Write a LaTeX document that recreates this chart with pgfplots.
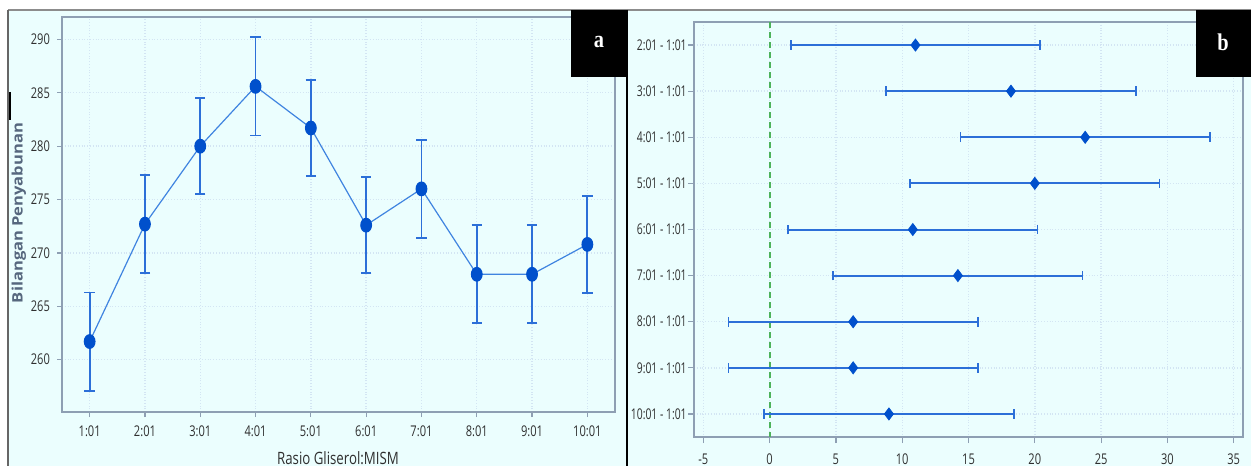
\documentclass[border=0pt]{standalone}
\usepackage{fontspec}
\setmainfont{Open Sans}[FakeStretch=0.75]
\newfontfamily\labfont{Open Sans}[FakeStretch=0.78]
\newfontfamily\narrowfont{Open Sans}[FakeStretch=0.70]
\newfontfamily\serifb{Liberation Serif}[FakeStretch=0.85]
\usepackage{graphicx}
\usepackage{pgfplots}
\pgfplotsset{compat=1.18}
\usepackage{pgfplotstable}
\definecolor{bgc}{HTML}{EBFEFE}
\definecolor{gridc}{HTML}{D3E5F3}
\definecolor{axc}{HTML}{8E9FB3}
\definecolor{mk}{HTML}{0050CC}
\definecolor{ln}{HTML}{3F84E0}
\definecolor{eb}{HTML}{2C6FD8}
\definecolor{grn}{HTML}{4DB35A}
\definecolor{ylab}{HTML}{56677E}
\definecolor{tkl}{HTML}{2F2F2F}

\pgfplotstableread{
x y e
1 261.7 4.6
2 272.7 4.6
3 280.0 4.5
4 285.6 4.6
5 281.7 4.5
6 272.6 4.5
7 276.0 4.6
8 268.0 4.6
9 268.0 4.6
10 270.8 4.55
}\lefttab

\pgfplotstableread{
y x e
1 11.0 9.4
2 18.2 9.4
3 23.8 9.4
4 20.0 9.4
5 10.8 9.4
6 14.2 9.4
7 6.3 9.4
8 6.3 9.4
9 9.0 9.4
}\righttab

\begin{document}
\begin{tikzpicture}
\path[use as bounding box] (0,0) rectangle (625.5pt,233pt);
\begin{scope}[x=0.5pt,y=-0.5pt,yshift=233pt]
  \fill[white] (0,0) rectangle (1251,466);
  \fill[bgc] (8,10) rectangle (1251,466);
  \node[rotate=90, ylab, font=\labfont\bfseries\fontsize{10.6}{12}\selectfont] at (19,213) {\scalebox{1}[0.68]{Bilangan Penyabunan}};
  \node[anchor=base, tkl, font=\labfont\fontsize{8.5}{10}\selectfont] at (338,464) {Rasio Gliserol:MISM};
\end{scope}

\begin{axis}[
  at={(31pt,27pt)}, anchor=south west,
  width=276.5pt, height=197.5pt, scale only axis,
  xmin=0.5, xmax=10.5, ymin=255.1, ymax=292.1,
  xtick={1,...,10},
  xticklabels={1:01,2:01,3:01,4:01,5:01,6:01,7:01,8:01,9:01,10:01},
  ytick={260,265,...,290},
  grid=major, grid style={gridc, densely dotted, line width=0.7pt},
  axis line style={axc, line width=0.8pt},
  tick style={axc, line width=0.6pt},
  tick align=outside, major tick length=2.5pt,
  xtick pos=bottom, ytick pos=left,
  tick label style={font=\fontsize{7.4}{8}\selectfont, tkl},
  /pgf/number format/assume math mode=true,
  xticklabel style={yshift=-1pt},
]
\addplot[ln, line width=0.6pt, mark=*, mark size=3.4pt,
  mark options={mk, draw=mk, fill=mk, xscale=0.78},
  error bars/.cd, y dir=both, y explicit,
  error bar style={eb, line width=0.9pt},
  error mark options={eb, mark size=2.6pt, line width=0.9pt, rotate=90}]
  table[x=x, y=y, y error=e]{\lefttab};
\end{axis}

\begin{axis}[
  at={(347pt,14.5pt)}, anchor=south west,
  width=274.5pt, height=207.5pt, scale only axis,
  xmin=-5.7, xmax=35.7, ymin=0.5, ymax=9.5, y dir=reverse,
  xtick={-5,0,...,35},
  ytick={1,...,9},
  yticklabels={2:01 - 1:01,3:01 - 1:01,4:01 - 1:01,5:01 - 1:01,6:01 - 1:01,7:01 - 1:01,8:01 - 1:01,9:01 - 1:01,10:01 - 1:01},
  grid=major, grid style={gridc, densely dotted, line width=0.7pt},
  axis line style={axc, line width=0.8pt},
  tick style={axc, line width=0.6pt},
  tick align=outside, major tick length=3pt,
  xtick pos=bottom, ytick pos=left,
  tick label style={font=\fontsize{7.4}{8}\selectfont, tkl},
  /pgf/number format/assume math mode=true,
  xticklabel style={yshift=-2pt},
  yticklabel style={inner xsep=0pt, xshift=-0.5pt, font=\narrowfont\fontsize{7.4}{8}\selectfont},
]
\addplot[grn, dash pattern=on 3pt off 2pt, line width=1.1pt] coordinates {(0,0.5) (0,9.5)};
\addplot[only marks, mark=diamond*, mark size=3pt,
  mark options={mk, draw=mk, fill=mk},
  error bars/.cd, x dir=both, x explicit,
  error bar style={eb, line width=1pt},
  error mark options={eb, mark size=2.4pt, line width=0.9pt, rotate=90}]
  table[x=x, y=y, x error=e]{\righttab};
\end{axis}

\begin{scope}[x=0.5pt,y=-0.5pt,yshift=233pt]
  \draw[black!45, line width=1pt] (8,10) -- (1251,10);
  \draw[black!60, line width=1pt] (8,10) -- (8,466);
  \draw[black, line width=0.9pt] (10,92) -- (10,120);
  \draw[black, line width=1.4pt] (627,10) -- (627,466);
  \fill[black] (571,10) rectangle (627,77);
  \fill[black] (1196,10) rectangle (1251,77);
  \node[white, font=\serifb\bfseries\fontsize{12}{14}\selectfont] at (599,42) {a};
  \node[white, font=\serifb\bfseries\fontsize{12}{14}\selectfont] at (1223,42) {b};
\end{scope}
\end{tikzpicture}
\end{document}
